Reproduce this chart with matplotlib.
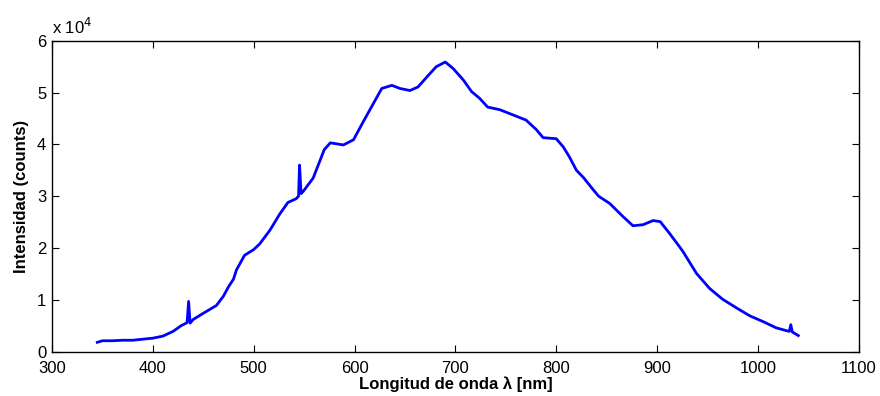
import matplotlib
matplotlib.use("Agg")
import matplotlib.pyplot as plt

# spectrum (nm, counts/1e3)
wavelength = [345, 350, 360, 370, 380, 390, 400, 410, 420, 428, 434, 435.5, 437,
              440, 450, 463, 470, 475, 480, 483, 491, 500, 506, 516, 526, 534,
              542, 544.5, 545.5, 547, 549, 559, 565, 570, 576, 589, 599, 609,
              619, 627, 637, 645, 655, 663, 673, 681, 690, 698, 708, 716, 724,
              732, 744, 757, 770, 780, 787, 800, 807, 813, 820, 827, 836, 842,
              853, 866, 876, 886, 896, 903, 912, 922, 926, 939, 952, 965, 979,
              992, 1005, 1018, 1031, 1032.5, 1034, 1040]
intensity_k = [1.8, 2.1, 2.1, 2.2, 2.2, 2.4, 2.6, 3.0, 3.9, 5.0, 5.6, 9.7, 5.5,
               6.2, 7.4, 8.9, 10.7, 12.5, 14.0, 15.8, 18.6, 19.7, 20.8, 23.4,
               26.6, 28.8, 29.5, 30.0, 36.0, 30.5, 30.9, 33.5, 36.5, 39.0, 40.3,
               39.9, 40.9, 44.5, 48.0, 50.8, 51.4, 50.8, 50.4, 51.1, 53.3, 55.0,
               55.9, 54.6, 52.4, 50.2, 48.9, 47.2, 46.7, 45.7, 44.7, 42.9, 41.3,
               41.1, 39.5, 37.6, 35.0, 33.6, 31.4, 30.0, 28.6, 26.1, 24.3, 24.5,
               25.3, 25.1, 22.9, 20.3, 19.2, 15.1, 12.2, 10.1, 8.4, 6.9, 5.8,
               4.6, 3.9, 5.2, 3.8, 3.1]
intensity = [v * 1000 for v in intensity_k]

xticks = [300, 400, 500, 600, 700, 800, 900, 1000, 1100]
yticks = [0, 10000, 20000, 30000, 40000, 50000, 60000]
ytick_labels = ["0", "1", "2", "3", "4", "5", "6"]

plt.rcParams['font.family'] = ['Liberation Sans', 'DejaVu Sans']

fig = plt.figure(figsize=(8.8, 3.96), dpi=100)
ax = fig.add_axes([0.059, 0.112, 0.917, 0.785])

ax.plot(wavelength, intensity, color=(0, 0, 1), linewidth=2.0)

ax.set_xlim(300, 1100)
ax.set_ylim(0, 60000)
ax.set_xticks(xticks)
ax.set_yticks(yticks)
ax.set_yticklabels(ytick_labels)
ax.tick_params(direction='in', length=5, width=0.8, labelsize=12,
               top=True, right=True)
ax.tick_params(axis='x', pad=7)
ax.tick_params(axis='y', pad=4)
for s in ax.spines.values():
    s.set_linewidth(1.0)

ax.text(0.0, 1.012, r'x 10$^{4}$', transform=ax.transAxes, fontsize=12,
        ha='left', va='bottom')

ax.set_xlabel('Longitud de onda λ [nm]', fontsize=12, fontweight='bold',
              labelpad=0)
ax.set_ylabel('Intensidad (counts)', fontsize=12, fontweight='bold',
              labelpad=6)

fig.savefig('out.png', dpi=100)
